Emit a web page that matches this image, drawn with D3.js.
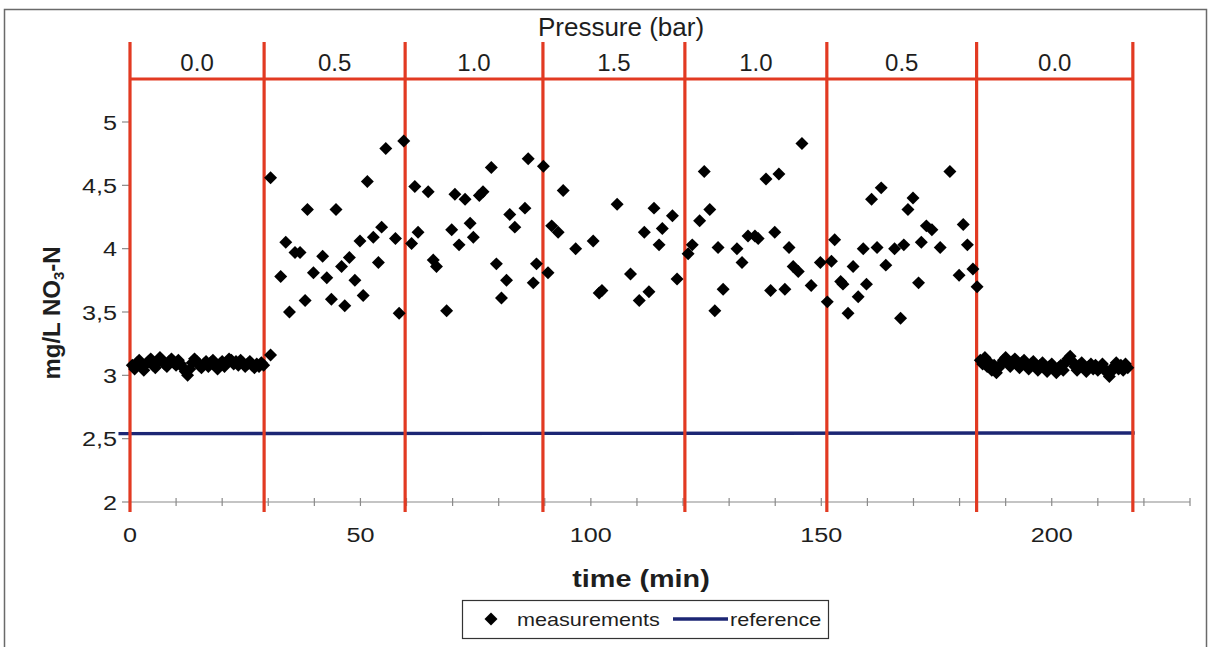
<!DOCTYPE html>
<html>
<head>
<meta charset="utf-8">
<script src="https://cdn.jsdelivr.net/npm/d3@7"></script>
<style>
  html, body { margin: 0; padding: 0; background: #fff; }
  svg { display: block; }
  text { font-family: "Liberation Sans", Arial, sans-serif; fill: #1e1e1e; }
</style>
</head>
<body>
<svg id="chart" width="1213" height="647"></svg>
<script>
// ---------------- data ----------------
const boundaries = [0, 29.1, 59.7, 89.6, 120.4, 151.2, 183.7, 217.6];
const pressures = ["0.0", "0.5", "1.0", "1.5", "1.0", "0.5", "0.0"];
const xTicks = [0, 50, 100, 150, 200];
const xMinorTicks = [0,10,20,30,40,50,60,70,80,90,100,110,120,130,140,150,160,170,180,190,200,210,220,230];
const yTicks = [2, 2.5, 3, 3.5, 4, 4.5, 5];
const yTickLabels = ["2", "2,5", "3", "3,5", "4", "4,5", "5"];

// measurements at 0 bar (start)
const measStart = [
  [0.5,3.08],[1.0,3.05],[1.5,3.10],[2.0,3.12],[2.5,3.07],[3.0,3.04],[3.5,3.09],[4.0,3.11],
  [4.5,3.13],[5.0,3.08],[5.5,3.06],[6.0,3.10],[6.5,3.14],[7.0,3.12],[7.5,3.09],[8.0,3.07],
  [8.5,3.11],[9.0,3.13],[9.5,3.10],[10.0,3.08],[10.5,3.12],[11.0,3.09],[11.5,3.06],[12.0,3.03],
  [12.5,3.00],[13.0,3.05],[13.5,3.10],[14.0,3.13],[14.5,3.11],[15.0,3.08],[15.5,3.06],[16.0,3.09],
  [16.5,3.11],[17.0,3.07],[17.5,3.10],[18.0,3.12],[18.5,3.08],[19.0,3.05],[19.5,3.09],[20.0,3.11],
  [20.5,3.07],[21.0,3.10],[21.5,3.13],[22.0,3.12],[22.5,3.09],[23.0,3.11],[23.5,3.08],[24.0,3.12],
  [24.5,3.10],[25.0,3.07],[25.5,3.09],[26.0,3.11],[26.5,3.08],[27.0,3.06],[27.5,3.09],[28.0,3.07],
  [28.5,3.10],[29.0,3.08]
];

// measurements under pressure
const measPressure = [
  [30.5,3.16],[30.5,4.56],[32.7,3.78],[33.8,4.05],[34.6,3.50],[35.8,3.97],[36.9,3.97],[38.0,3.59],
  [38.5,4.31],[39.8,3.81],[41.8,3.94],[42.7,3.77],[43.7,3.60],[44.7,4.31],[45.9,3.86],[46.6,3.55],
  [47.6,3.93],[48.8,3.75],[49.9,4.06],[50.6,3.63],[51.5,4.53],[52.8,4.09],[53.9,3.89],[54.6,4.17],
  [55.5,4.79],[57.6,4.08],[58.4,3.49],[59.4,4.85],[61.1,4.04],[61.8,4.49],[62.5,4.13],[64.7,4.45],
  [65.8,3.91],[66.5,3.86],[68.7,3.51],[69.8,4.15],[70.5,4.43],[71.4,4.03],[72.7,4.39],[73.8,4.20],
  [74.5,4.09],[75.8,4.42],[76.6,4.45],[78.4,4.64],[79.5,3.88],[80.6,3.61],[81.7,3.75],[82.4,4.27],
  [83.5,4.17],[85.7,4.32],[86.4,4.71],[87.5,3.73],[88.2,3.88],[89.7,4.65],[90.7,3.81],[91.5,4.18],
  [92.9,4.13],[94.0,4.46],[96.7,4.00],[100.5,4.06],[101.8,3.65],[102.4,3.67],[105.7,4.35],[108.6,3.80],
  [110.5,3.59],[111.6,4.13],[112.6,3.66],[113.7,4.32],[114.8,4.03],[115.5,4.16],[117.7,4.26],[118.7,3.76],
  [121.1,3.96],[122.0,4.03],[123.6,4.22],[124.6,4.61],[125.8,4.31],[126.9,3.51],[127.6,4.01],[128.7,3.68],
  [131.7,4.00],[132.8,3.89],[134.1,4.10],[135.6,4.10],[136.3,4.08],[138.0,4.55],[139.0,3.67],[139.9,4.13],
  [140.8,4.59],[142.1,3.68],[143.0,4.01],[143.9,3.86],[145.0,3.82],[145.8,4.83],[147.8,3.71],[149.8,3.89],
  [151.3,3.58],[152.2,3.90],[152.9,4.07],[154.2,3.74],[154.7,3.72],[155.8,3.49],[156.9,3.86],[158.0,3.62],
  [159.1,4.00],[159.8,3.72],[160.9,4.39],[162.1,4.01],[163.0,4.48],[164.0,3.87],[165.9,4.00],[167.2,3.45],
  [167.9,4.03],[168.8,4.31],[169.9,4.40],[171.1,3.73],[171.7,4.05],[172.8,4.18],[174.0,4.15],[175.8,4.01],
  [177.9,4.61],[179.9,3.79],[180.8,4.19],[181.7,4.03],[182.9,3.84],[183.8,3.70]
];

// measurements at 0 bar (end)
const measEnd = [
  [184.5,3.12],[185.0,3.09],[185.5,3.14],[186.0,3.07],[186.5,3.10],[187.0,3.04],[187.5,3.08],[188.0,3.02],
  [188.5,3.06],[189.0,3.09],[189.5,3.12],[190.0,3.14],[190.5,3.10],[191.0,3.07],[191.5,3.11],[192.0,3.13],
  [192.5,3.09],[193.0,3.06],[193.5,3.10],[194.0,3.12],[194.5,3.08],[195.0,3.05],[195.5,3.09],[196.0,3.11],
  [196.5,3.07],[197.0,3.04],[197.5,3.08],[198.0,3.10],[198.5,3.06],[199.0,3.03],[199.5,3.07],[200.0,3.09],
  [200.5,3.05],[201.0,3.02],[201.5,3.06],[202.0,3.08],[202.5,3.04],[203.0,3.10],[203.5,3.13],[204.0,3.15],
  [204.5,3.11],[205.0,3.07],[205.5,3.04],[206.0,3.08],[206.5,3.10],[207.0,3.06],[207.5,3.03],[208.0,3.07],
  [208.5,3.09],[209.0,3.05],[209.5,3.08],[210.0,3.04],[210.5,3.06],[211.0,3.09],[211.5,3.05],[212.0,3.02],
  [212.5,2.99],[213.0,3.03],[213.5,3.07],[214.0,3.10],[214.5,3.05],[215.0,3.08],[215.5,3.04],[216.0,3.09],
  [216.5,3.06]
];

const reference = [[-2.5, 2.54], [218, 2.545]];

// ---------------- layout ----------------
const svg = d3.select("#chart");
const W = 1213, H = 647;
const SX = 1.2; // horizontal stretch of the chart's own text

const x = d3.scaleLinear().domain([0, 230]).range([130, 1190]);
const y = d3.scaleLinear().domain([2, 5]).range([502, 122]);

const RED = "#e23a22";
const BLUE = "#1c2674";
const GRID = "#8a8a8a";

function stretched(sel, px, py) {
  return sel.attr("transform", `translate(${px},${py}) scale(${SX},1)`);
}

svg.append("rect").attr("x", 0).attr("y", 0).attr("width", W).attr("height", H).attr("fill", "#fff");

// outer frame
svg.append("rect")
  .attr("x", 4.5).attr("y", 9.5).attr("width", 1202).attr("height", 650)
  .attr("fill", "none").attr("stroke", "#6a6a6a").attr("stroke-width", 1.5);

// x axis
const gx = svg.append("g").attr("transform", `translate(0,${y(2)})`);
gx.append("line").attr("x1", x(0)).attr("x2", x(230)).attr("stroke", GRID).attr("stroke-width", 1.2);
gx.selectAll("line.tick").data(xMinorTicks).join("line")
  .attr("class", "tick")
  .attr("x1", d => x(d)).attr("x2", d => x(d))
  .attr("y1", -4).attr("y2", 4)
  .attr("stroke", GRID).attr("stroke-width", 1.2);
gx.selectAll("text").data(xTicks).join("text")
  .each(function(d) { stretched(d3.select(this), x(d), 40); })
  .attr("text-anchor", "middle")
  .attr("font-size", 21)
  .text(d => d);

// y axis
const gy = svg.append("g").attr("transform", `translate(${x(0)},0)`);
gy.append("line").attr("y1", y(2)).attr("y2", y(5)).attr("stroke", GRID).attr("stroke-width", 1.2);
gy.selectAll("line.tick").data(yTicks).join("line")
  .attr("class", "tick")
  .attr("x1", -8).attr("x2", 0)
  .attr("y1", d => y(d)).attr("y2", d => y(d))
  .attr("stroke", GRID).attr("stroke-width", 1.2);
gy.selectAll("text").data(yTicks).join("text")
  .each(function(d) { stretched(d3.select(this), -13, y(d)); })
  .attr("dy", "0.36em")
  .attr("text-anchor", "end")
  .attr("font-size", 21)
  .text((d, i) => yTickLabels[i]);

// axis titles
stretched(svg.append("text"), 641, 587)
  .attr("text-anchor", "middle")
  .attr("font-size", 24).attr("font-weight", "bold")
  .text("time (min)");

const yt = svg.append("text")
  .attr("transform", `translate(60,313) rotate(-90)`)
  .attr("text-anchor", "middle")
  .attr("font-size", 24).attr("font-weight", "bold");
yt.append("tspan").text("mg/L NO");
yt.append("tspan").attr("font-size", 15).attr("dy", 4).text("3");
yt.append("tspan").attr("dy", -4).text("-N");

// reference line
const line = d3.line().x(d => x(d[0])).y(d => y(d[1]));
svg.append("path").datum(reference)
  .attr("d", line)
  .attr("fill", "none").attr("stroke", BLUE).attr("stroke-width", 3.4);

// red pressure-step lines
const topVal = y.invert(42), bracketVal = y.invert(79), bottomVal = y.invert(512);
svg.selectAll("line.step").data(boundaries).join("line")
  .attr("class", "step")
  .attr("x1", d => x(d)).attr("x2", d => x(d))
  .attr("y1", y(topVal)).attr("y2", y(bottomVal))
  .attr("stroke", RED).attr("stroke-width", 3.2);
svg.append("line")
  .attr("x1", x(boundaries[0])).attr("x2", x(boundaries[boundaries.length - 1]))
  .attr("y1", y(bracketVal)).attr("y2", y(bracketVal))
  .attr("stroke", RED).attr("stroke-width", 3.2);

// pressure labels
svg.selectAll("text.pl").data(pressures).join("text")
  .attr("class", "pl")
  .attr("x", (d, i) => (x(boundaries[i]) + x(boundaries[i + 1])) / 2)
  .attr("y", 71)
  .attr("text-anchor", "middle")
  .attr("font-size", 24)
  .text(d => d);
svg.append("text")
  .attr("x", 621).attr("y", 36)
  .attr("text-anchor", "middle")
  .attr("font-size", 26)
  .text("Pressure (bar)");

// measurements
const diamond = d3.symbol().type(d3.symbolSquare).size(84);
const allMeas = measStart.concat(measPressure, measEnd);
svg.append("g").selectAll("path").data(allMeas).join("path")
  .attr("d", diamond)
  .attr("transform", d => `translate(${x(d[0])},${y(d[1])}) rotate(45)`)
  .attr("fill", "#000");

// legend
const lg = svg.append("g");
lg.append("rect").attr("x", 462.5).attr("y", 600.5).attr("width", 366).attr("height", 38)
  .attr("fill", "#fff").attr("stroke", "#333").attr("stroke-width", 1.2);
lg.append("path").attr("d", diamond)
  .attr("transform", "translate(491,619) rotate(45)").attr("fill", "#000");
stretched(lg.append("text"), 517, 626).attr("font-size", 18).text("measurements");
lg.append("line").attr("x1", 673).attr("x2", 728).attr("y1", 619).attr("y2", 619)
  .attr("stroke", BLUE).attr("stroke-width", 3.4);
stretched(lg.append("text"), 730, 626).attr("font-size", 18).text("reference");
</script>
</body>
</html>
